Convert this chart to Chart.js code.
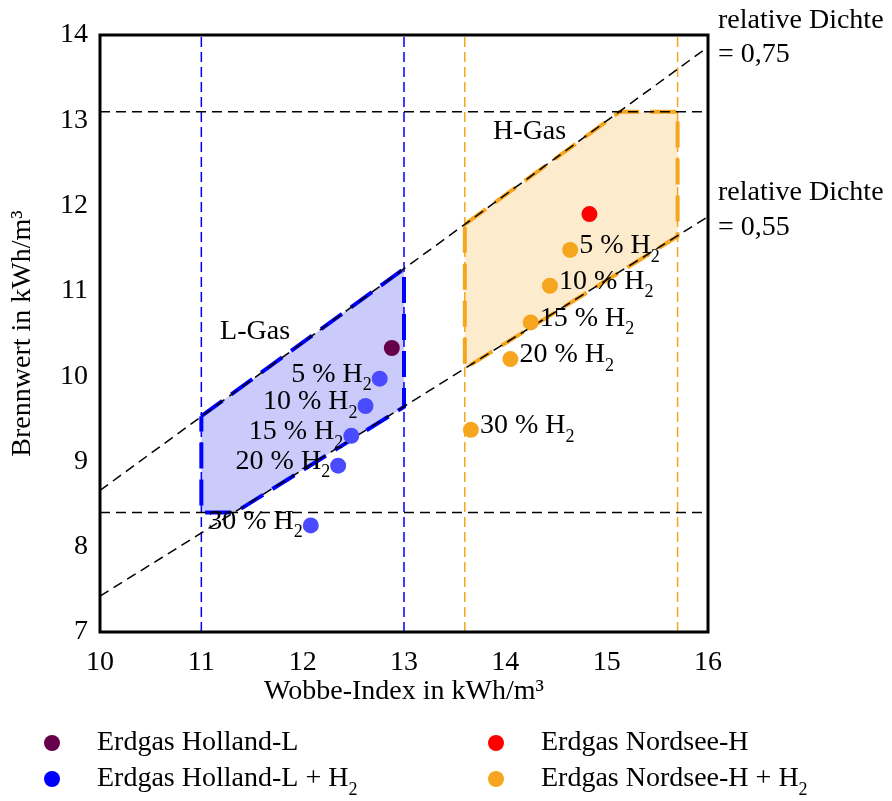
<!DOCTYPE html>
<html><head><meta charset="utf-8">
<script src="https://cdn.jsdelivr.net/npm/chart.js@4/dist/chart.umd.min.js"></script>
<style>html,body{margin:0;padding:0;background:#fff}#wrap{width:892px;height:801px}</style>
</head><body><div id="wrap"><canvas id="c" width="892" height="801"></canvas></div>
<script>
// ---- data ----
const wobbeRange = [10, 16];
const dichte075 = [8.66, 13.86];
const dichte055 = [7.42, 11.87];
const brennwertLimits = [8.4, 13.1];
const lGasWobbe = [11, 13];
const hGasWobbe = [13.6, 15.7];
const lGasPolyW = [11, 13, 13, 11.33, 11, 11];
const lGasPolyH = [9.53, 11.26, 9.64, 8.4, 8.4, 9.53];
const hGasPolyW = [13.6, 15.13, 15.7, 15.7, 13.6, 13.6];
const hGasPolyH = [11.78, 13.1, 13.1, 11.64, 10.09, 11.78];
const hollandL = {x: [12.88], y: [10.33]};
const nordseeH = {x: [14.83], y: [11.90]};
const h2Shares = ["5", "10", "15", "20", "30"];
const hollandH2W = [12.76, 12.62, 12.48, 12.35, 12.08];
const hollandH2H = [9.97, 9.65, 9.30, 8.95, 8.25];
const nordseeH2W = [14.64, 14.44, 14.25, 14.05, 13.66];
const nordseeH2H = [11.48, 11.06, 10.63, 10.20, 9.37];
const xTicks = [10, 11, 12, 13, 14, 15, 16];
const yTicks = [7, 8, 9, 10, 11, 12, 13, 14];

const FONT = '"Liberation Serif", "Times New Roman", serif';
const FS = 28;
const zip = (xs, ys) => xs.map((x, i) => ({x, y: ys[i]}));
const BLUE = '#0000ff', BLUEPT = '#4a4aff', ORANGE = '#f5a61e', PURPLE = '#66004a', RED = '#ff0000';
const LFILL = 'rgba(60,60,240,0.27)', HFILL = 'rgba(245,166,30,0.22)';

function refLine(data, color, width, dash, order) {
  return {type: 'line', data, borderColor: color, borderWidth: width, borderDash: dash,
    pointRadius: 0, fill: false, showLine: true, order, tension: 0};
}

const datasets = [
  {type: 'line', label: 'L-Gas', data: zip(lGasPolyW, lGasPolyH), borderColor: BLUE, borderWidth: 4,
   borderDash: [26, 11], backgroundColor: LFILL, fill: 'shape', pointRadius: 0, order: 9, tension: 0},
  {type: 'line', label: 'H-Gas', data: zip(hGasPolyW, hGasPolyH), borderColor: ORANGE, borderWidth: 4,
   borderDash: [26, 11], backgroundColor: HFILL, fill: 'shape', pointRadius: 0, order: 9, tension: 0},
  refLine(zip(wobbeRange, dichte075), '#000', 1.5, [10, 6], 5),
  refLine(zip(wobbeRange, dichte055), '#000', 1.5, [10, 6], 5),
  refLine(zip(wobbeRange, [brennwertLimits[0], brennwertLimits[0]]), '#000', 1.5, [10, 6], 5),
  refLine(zip(wobbeRange, [brennwertLimits[1], brennwertLimits[1]]), '#000', 1.5, [10, 6], 5),
  refLine(zip([lGasWobbe[0], lGasWobbe[0]], [7, 14]), BLUE, 1.5, [10, 5], 6),
  refLine(zip([lGasWobbe[1], lGasWobbe[1]], [7, 14]), BLUE, 1.5, [10, 5], 6),
  refLine(zip([hGasWobbe[0], hGasWobbe[0]], [7, 14]), ORANGE, 1.5, [10, 5], 6),
  refLine(zip([hGasWobbe[1], hGasWobbe[1]], [7, 14]), ORANGE, 1.5, [10, 5], 6),
  {type: 'scatter', label: 'Erdgas Holland-L', data: zip(hollandL.x, hollandL.y), backgroundColor: PURPLE,
   borderWidth: 0, pointRadius: 8, order: 1},
  {type: 'scatter', label: 'Erdgas Holland-L + H2', data: zip(hollandH2W, hollandH2H), backgroundColor: BLUEPT,
   borderWidth: 0, pointRadius: 8, order: 1, h2side: 'left'},
  {type: 'scatter', label: 'Erdgas Nordsee-H', data: zip(nordseeH.x, nordseeH.y), backgroundColor: RED,
   borderWidth: 0, pointRadius: 8, order: 1},
  {type: 'scatter', label: 'Erdgas Nordsee-H + H2', data: zip(nordseeH2W, nordseeH2H), backgroundColor: ORANGE,
   borderWidth: 0, pointRadius: 8, order: 1, h2side: 'right'}
];

function drawSub(ctx, main, sub, x, y, align) {
  const subFs = Math.round(FS * 0.64);
  ctx.font = FS + 'px ' + FONT;
  const w1 = ctx.measureText(main).width;
  ctx.font = subFs + 'px ' + FONT;
  const w2 = sub ? ctx.measureText(sub).width : 0;
  let x0 = x;
  if (align === 'right') x0 = x - w1 - w2;
  else if (align === 'center') x0 = x - (w1 + w2) / 2;
  ctx.textAlign = 'left';
  ctx.textBaseline = 'middle';
  ctx.fillStyle = '#000';
  ctx.font = FS + 'px ' + FONT;
  ctx.fillText(main, x0, y);
  if (sub) {
    ctx.font = subFs + 'px ' + FONT;
    ctx.fillText(sub, x0 + w1, y + 11);
  }
}

const overlay = {
  id: 'overlay',
  afterDatasetsDraw(chart) {
    const ctx = chart.ctx, a = chart.chartArea;
    const xs = chart.scales.x, ys = chart.scales.y;
    ctx.save();
    // frame
    ctx.strokeStyle = '#000'; ctx.lineWidth = 3; ctx.setLineDash([]);
    ctx.strokeRect(a.left, a.top, a.right - a.left, a.bottom - a.top);
    // point labels
    chart.data.datasets.forEach((ds, di) => {
      if (!ds.h2side) return;
      const meta = chart.getDatasetMeta(di);
      meta.data.forEach((pt, i) => {
        const lbl = h2Shares[i] + ' % H';
        if (ds.h2side === 'left') drawSub(ctx, lbl, '2', pt.x - 8, pt.y - 4, 'right');
        else drawSub(ctx, lbl, '2', pt.x + 9, pt.y - 4, 'left');
      });
    });
    // region labels
    drawSub(ctx, 'L-Gas', '', xs.getPixelForValue(11.53), ys.getPixelForValue(10.52), 'center');
    drawSub(ctx, 'H-Gas', '', xs.getPixelForValue(14.24), ys.getPixelForValue(12.87), 'center');
    // density annotations
    drawSub(ctx, 'relative Dichte', '', a.right + 10, 21, 'left');
    drawSub(ctx, '= 0,75', '', a.right + 10, 55, 'left');
    drawSub(ctx, 'relative Dichte', '', a.right + 10, 193, 'left');
    drawSub(ctx, '= 0,55', '', a.right + 10, 228, 'left');
    // legend
    const leg = [
      [PURPLE, 'Erdgas Holland-L', '', 52, 743],
      [BLUE, 'Erdgas Holland-L + H', '2', 52, 779],
      [RED, 'Erdgas Nordsee-H', '', 496, 743],
      [ORANGE, 'Erdgas Nordsee-H + H', '2', 496, 779]
    ];
    leg.forEach(([c, t, s, x, y]) => {
      ctx.beginPath(); ctx.fillStyle = c; ctx.arc(x, y, 8, 0, Math.PI * 2); ctx.fill();
      drawSub(ctx, t, s, x + 45, y, 'left');
    });
    ctx.restore();
  }
};

new Chart(document.getElementById('c'), {
  type: 'scatter',
  data: {datasets},
  options: {
    responsive: false, animation: false, maintainAspectRatio: false,
    layout: {padding: {left: 0, right: 184, top: 35, bottom: 89}},
    plugins: {legend: {display: false}, tooltip: {enabled: false}},
    scales: {
      x: {type: 'linear', min: 10, max: 16,
        afterBuildTicks: s => { s.ticks = xTicks.map(v => ({value: v})); },
        afterFit: s => { s.height = 80; },
        grid: {display: false, drawTicks: false},
        border: {display: false},
        ticks: {color: '#000', font: {family: FONT, size: FS}, padding: 14, maxRotation: 0},
        title: {display: true, text: 'Wobbe-Index in kWh/m³', color: '#000', font: {family: FONT, size: FS}, padding: {top: 5}}
      },
      y: {type: 'linear', min: 7, max: 14,
        afterBuildTicks: s => { s.ticks = yTicks.map(v => ({value: v})); },
        afterFit: s => { s.width = 100; },
        grid: {display: false, drawTicks: false},
        border: {display: false},
        ticks: {color: '#000', font: {family: FONT, size: FS}, padding: 12},
        title: {display: true, text: 'Brennwert in kWh/m³', color: '#000', font: {family: FONT, size: FS}, padding: {top: 6, bottom: 0}}
      }
    }
  },
  plugins: [overlay]
});
</script></body></html>
